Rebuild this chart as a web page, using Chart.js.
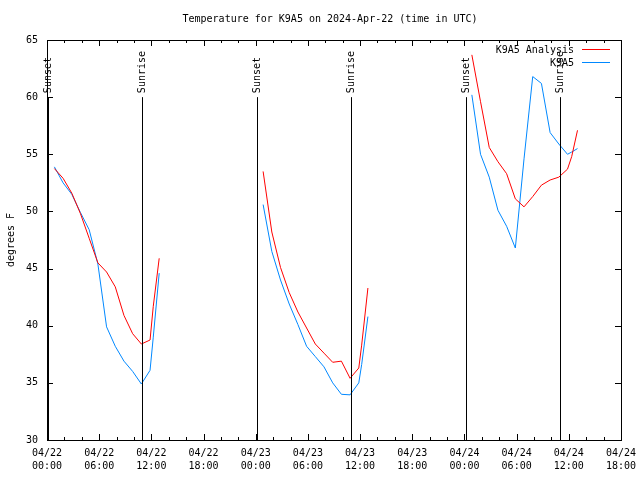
<!DOCTYPE html>
<html>
<head>
<meta charset="utf-8">
<script src="https://cdn.jsdelivr.net/npm/chart.js@4/dist/chart.umd.min.js"></script>
<style>
html, body { margin: 0; padding: 0; background: #fff; }
</style>
</head>
<body>
<canvas id="chart" width="640" height="480"></canvas>
<script>
// hours since 04/22 00:00 UTC, null temps break the line between nights
const obsHours = [
    0.85, 1.85, 2.85, 3.85, 4.85, 5.85, 6.85, 7.85, 8.85, 9.85, 10.85, 11.85, 12.22, 12.9,
    18,
    24.85, 25.85, 26.85, 27.85, 28.85, 29.85, 30.85, 31.85, 32.85, 33.85, 34.85, 35.85, 36.18, 36.9,
    42,
    48.85, 49.85, 50.85, 51.85, 52.85, 53.85, 54.85, 55.85, 56.85, 57.85, 58.85, 59.85, 60.33, 61.0
];
const analysisTemps = [
    53.75, 52.9, 51.6, 49.8, 47.65, 45.5, 44.7, 43.4, 40.9, 39.3, 38.4, 38.75, 41.7, 45.9,
    null,
    53.5, 48.2, 45.1, 42.9, 41.2, 39.8, 38.4, 37.6, 36.8, 36.9, 35.4, 36.3, 38.3, 43.3,
    null,
    63.7, 59.6, 55.6, 54.35, 53.3, 51.1, 50.4, 51.3, 52.3, 52.75, 53.0, 53.7, 54.8, 57.1
];
const stationTemps = [
    53.9, 52.5, 51.5, 49.9, 48.4, 45.4, 39.9, 38.2, 36.9, 36.0, 34.9, 36.1, 39.0, 44.6,
    null,
    50.6, 46.5, 44.0, 41.9, 40.1, 38.2, 37.3, 36.4, 35.0, 34.0, 33.95, 35.0, 36.6, 40.8,
    null,
    60.2, 55.0, 53.0, 50.1, 48.7, 46.8, 54.6, 61.8, 61.2, 56.9, 55.9, 55.0, 55.2, 55.5
];

const sunEventHours = [0.15, 10.97, 24.17, 34.95, 48.18, 58.93];
const sunEventLabels = ['Sunset', 'Sunrise', 'Sunset', 'Sunrise', 'Sunset', 'Sunrise'];

const xTickLabels = [
    ['04/22', '00:00'], ['04/22', '06:00'], ['04/22', '12:00'], ['04/22', '18:00'],
    ['04/23', '00:00'], ['04/23', '06:00'], ['04/23', '12:00'], ['04/23', '18:00'],
    ['04/24', '00:00'], ['04/24', '06:00'], ['04/24', '12:00'], ['04/24', '18:00']
];

const MONO = '"DejaVu Sans Mono", "Liberation Mono", monospace';
const titleText = 'Temperature for K9A5 on 2024-Apr-22 (time in UTC)';

const toPoints = temps => obsHours.map((h, i) => ({ x: h, y: temps[i] }));

// gnuplot-ish frame, inward ticks, sun markers, title and legend
const gnuplotLook = {
    id: 'gnuplotLook',
    afterDraw(chart) {
        const ctx = chart.ctx;
        const a = chart.chartArea;
        const xs = chart.scales.x;
        const ys = chart.scales.y;
        ctx.save();
        ctx.strokeStyle = '#000';
        ctx.lineWidth = 1;

        // frame
        ctx.strokeRect(Math.round(a.left) + 0.5, Math.round(a.top) + 0.5,
            Math.round(a.right - a.left), Math.round(a.bottom - a.top));

        // ticks
        ctx.beginPath();
        xs.ticks.forEach(t => {
            const px = Math.round(xs.getPixelForValue(t.value)) + 0.5;
            const len = t.value % 6 === 0 ? 6 : 3;
            ctx.moveTo(px, a.bottom); ctx.lineTo(px, a.bottom - len);
            ctx.moveTo(px, a.top); ctx.lineTo(px, a.top + len);
        });
        ys.ticks.forEach(t => {
            const py = Math.round(ys.getPixelForValue(t.value)) + 0.5;
            ctx.moveTo(a.left, py); ctx.lineTo(a.left + 6, py);
            ctx.moveTo(a.right, py); ctx.lineTo(a.right - 6, py);
        });
        ctx.stroke();

        // sunrise / sunset markers
        ctx.font = '10px ' + MONO;
        ctx.fillStyle = '#000';
        sunEventHours.forEach((h, i) => {
            const px = Math.round(xs.getPixelForValue(h)) + 0.5;
            const yTop = ys.getPixelForValue(60);
            ctx.beginPath();
            ctx.moveTo(px, ys.getPixelForValue(30));
            ctx.lineTo(px, yTop);
            ctx.stroke();
            ctx.save();
            ctx.translate(px, yTop - 4);
            ctx.rotate(-Math.PI / 2);
            ctx.textAlign = 'left';
            ctx.textBaseline = 'middle';
            ctx.fillText(sunEventLabels[i], 0, 0);
            ctx.restore();
        });

        // title
        ctx.textAlign = 'center';
        ctx.textBaseline = 'middle';
        ctx.fillText(titleText, 330, 19);

        // legend
        chart.data.datasets.forEach((ds, i) => {
            const y = 50 + i * 13;
            ctx.textAlign = 'right';
            ctx.fillStyle = '#000';
            ctx.fillText(ds.label, 574, y);
            ctx.strokeStyle = ds.borderColor;
            ctx.beginPath();
            ctx.moveTo(582, Math.round(y) - 0.5);
            ctx.lineTo(610, Math.round(y) - 0.5);
            ctx.stroke();
        });
        ctx.restore();
    }
};

new Chart(document.getElementById('chart'), {
    type: 'line',
    data: {
        datasets: [
            {
                label: 'K9A5 Analysis',
                data: toPoints(analysisTemps),
                borderColor: '#ff0000',
                borderWidth: 1,
                pointRadius: 0,
                spanGaps: false,
            },
            {
                label: 'K9A5',
                data: toPoints(stationTemps),
                borderColor: '#0088ff',
                borderWidth: 1,
                pointRadius: 0,
                spanGaps: false,
            },
        ],
    },
    options: {
        responsive: false,
        animation: false,
        layout: { padding: { top: 40, right: 19, left: 0, bottom: 0 } },
        plugins: {
            legend: { display: false },
            title: { display: false },
            tooltip: { enabled: false },
        },
        scales: {
            x: {
                type: 'linear',
                min: 0,
                max: 66,
                grid: { display: false, drawTicks: false },
                border: { display: false },
                ticks: {
                    stepSize: 2,
                    autoSkip: false,
                    maxRotation: 0,
                    padding: 7,
                    color: '#000',
                    font: { family: MONO, size: 10, lineHeight: 1.3 },
                    callback: v => (v % 6 === 0 ? xTickLabels[v / 6] : ''),
                },
                afterFit: scale => {
                    scale.height = 40;
                    scale.paddingLeft = 0;
                    scale.paddingRight = 0;
                },
            },
            y: {
                min: 30,
                max: 65,
                grid: { display: false, drawTicks: false },
                border: { display: false },
                title: {
                    display: true,
                    text: 'degrees F',
                    color: '#000',
                    font: { family: MONO, size: 10 },
                    padding: { top: 5, bottom: 0 },
                },
                ticks: {
                    stepSize: 5,
                    padding: 9,
                    color: '#000',
                    font: { family: MONO, size: 10 },
                },
                afterFit: scale => { scale.width = 47; },
            },
        },
    },
    plugins: [gnuplotLook],
});
</script>
</body>
</html>
